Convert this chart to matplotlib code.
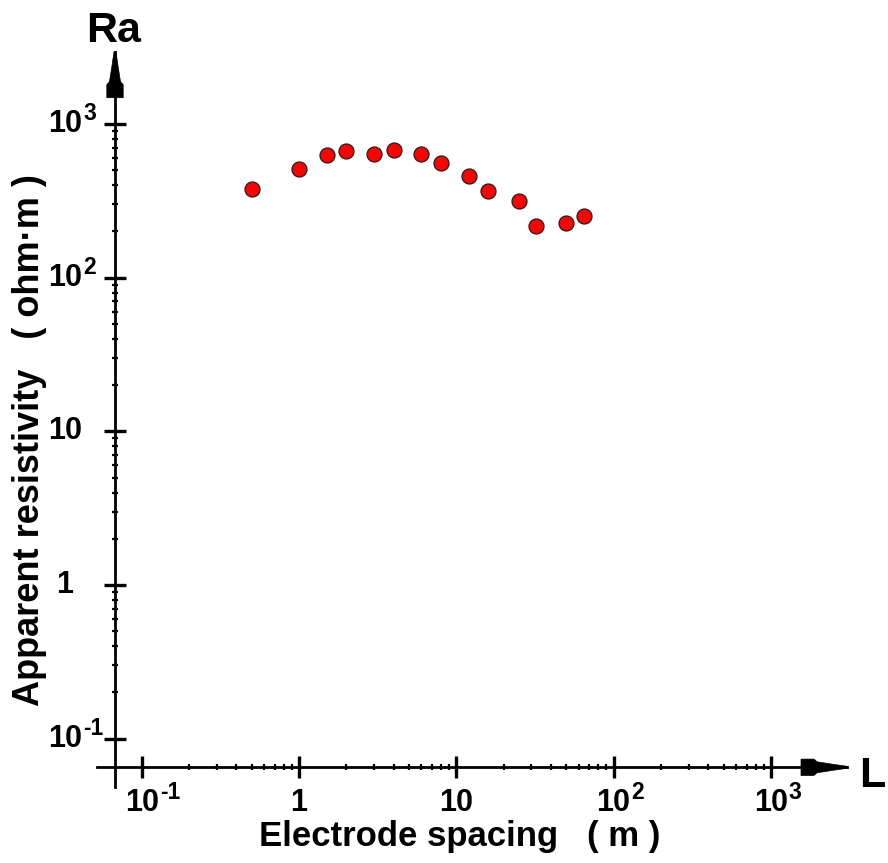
import matplotlib
matplotlib.use("Agg")
import matplotlib.pyplot as plt
from matplotlib.patches import Polygon
from matplotlib.ticker import FixedLocator, NullFormatter
from matplotlib.transforms import offset_copy, blended_transform_factory

# sounding curve: electrode spacing (m) vs apparent resistivity (ohm*m)
spacing = [0.5, 1, 1.5, 2, 3, 4, 6, 8, 12, 16, 25, 32, 50, 65]
resistivity = [376, 509, 628, 667, 641, 681, 641, 560, 459, 368, 317, 217, 227, 253]

x_major = [0.1, 1, 10, 100, 1000]
x_labels = [("10", "-1"), ("1", ""), ("10", ""), ("10", "2"), ("10", "3")]
y_major = [0.1, 1, 10, 100, 1000]
y_labels = [("10", "-1"), ("1", ""), ("10", ""), ("10", "2"), ("10", "3")]

W, H = 888, 863
FONT = "Liberation Sans"
plt.rcParams["font.family"] = [FONT, "DejaVu Sans"]


def fpos(px, py):
    # pixel position (from top-left) -> figure fraction
    return px / W, 1 - py / H


fig = plt.figure(figsize=(W / 100, H / 100), dpi=100)
left, top = fpos(97, 51.7)
right, bottom = fpos(847, 786.7)
ax = fig.add_axes([left, bottom, right - left, top - bottom])
ax.set_xscale("log")
ax.set_yscale("log")
ax.set_xlim(10 ** -1.284, 10 ** 3.484)
ax.set_ylim(10 ** -1.312, 10 ** 3.470)

ax.plot(spacing, resistivity, "o", ms=10.8, mfc="#ff0000", mec="#202020", mew=0.9,
        zorder=5, clip_on=False)

# axes crossing near the lower-left corner
x0 = 10 ** -1.170
y0 = 10 ** -1.185
for s in ["top", "right"]:
    ax.spines[s].set_visible(False)
ax.spines["left"].set_position(("data", x0))
ax.spines["bottom"].set_position(("data", y0))
for s in ["left", "bottom"]:
    ax.spines[s].set_linewidth(2.0)

minor = [m * d for d in [0.1, 1, 10, 100] for m in range(2, 10)]
ax.xaxis.set_major_locator(FixedLocator(x_major))
ax.xaxis.set_minor_locator(FixedLocator(minor))
ax.yaxis.set_major_locator(FixedLocator(y_major))
ax.yaxis.set_minor_locator(FixedLocator(minor))
ax.xaxis.set_minor_formatter(NullFormatter())
ax.yaxis.set_minor_formatter(NullFormatter())
ax.tick_params(which="major", direction="inout", length=16.5, width=2.4,
               labelbottom=False, labelleft=False)
ax.tick_params(which="minor", direction="inout", length=5, width=1.6)

renderer = fig.canvas.get_renderer()


def power_label(x, y, trans, base, exp):
    t = ax.text(x, y, base, transform=trans, ha="center", va="baseline",
                fontsize=22, fontweight="bold")
    if exp:
        half = t.get_window_extent(renderer).width / 2
        ax.text(x, y, exp, transform=offset_copy(trans, fig, x=half + 1, y=12, units="dots"),
                ha="left", va="baseline", fontsize=16.5, fontweight="bold")


# tick labels: mantissa centred, exponent hanging to the right
xtrans = offset_copy(blended_transform_factory(ax.transData, ax.transData), fig,
                     x=0, y=-44, units="dots")
for v, (b, e) in zip(x_major, x_labels):
    power_label(v, y0, xtrans, b, e)

ytrans = offset_copy(blended_transform_factory(fig.transFigure, ax.transData), fig,
                     x=0, y=-8, units="dots")
for v, (b, e) in zip(y_major, y_labels):
    power_label(65 / W, v, ytrans, b, e)

# arrow heads: (distance back from tip, half width) in pixels
profile = [(0, 1.0), (14, 3.0), (30, 5.5), (33, 8.2), (46, 8.2)]
tip_y = (115, 51.7)
tip_x = (847, 767.3)
up = [(tip_y[0] + w, tip_y[1] + d) for d, w in profile]
up += [(tip_y[0] - w, tip_y[1] + d) for d, w in reversed(profile)]
rt = [(tip_x[0] - d, tip_x[1] - w) for d, w in profile]
rt += [(tip_x[0] - d, tip_x[1] + w) for d, w in reversed(profile)]
for pts in [up, rt]:
    fig.patches.append(Polygon([fpos(*p) for p in pts], closed=True, color="black",
                               lw=0.5, transform=fig.transFigure, zorder=6))

fig.text(*fpos(114, 41.7), "Ra", ha="center", va="baseline", fontsize=31, fontweight="bold")
fig.text(*fpos(859, 787), "L", ha="left", va="baseline", fontsize=31, fontweight="bold")
fig.text(*fpos(460, 846), "Electrode spacing   ( m )", ha="center", va="baseline",
         fontsize=25, fontweight="bold")
fig.text(*fpos(30, 440), "Apparent resistivity   ( ohm·m )", ha="center", va="center",
         rotation=90, fontsize=26, fontweight="bold")

fig.savefig("out.png", dpi=100)
